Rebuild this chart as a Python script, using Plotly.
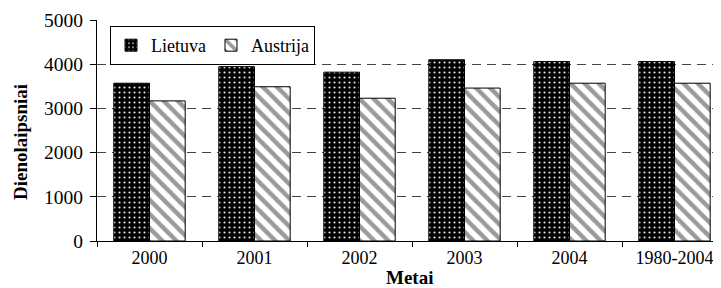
import plotly.graph_objects as go

categories = ["2000", "2001", "2002", "2003", "2004", "1980-2004"]
lietuva = [3570, 3945, 3820, 4100, 4060, 4060]
austrija = [3170, 3490, 3230, 3460, 3570, 3570]
series_names = ["Lietuva", "Austrija"]
y_title = "Dienolaipsniai"
x_title = "Metai"

# page body has an 8px margin; compensate so the plot area lands where the reference has it
OFF = 8
W, H = 721 - OFF, 288 - OFF
ML, MR, MT, MB = 97 - OFF, 0, 20 - OFF, H - (241 - OFF)
plot_w = W - ML - MR
plot_h = H - MT - MB
cat_px = 105.0

font_fam = "Liberation Serif"
FS = 18


def px_x(xp):
    return (xp - OFF - ML) / plot_w


def px_y(yp):
    return ((H - MB) - (yp - OFF)) / plot_h


fig = go.Figure()
fig.add_trace(go.Bar(
    x=categories, y=lietuva, name=series_names[0],
    marker=dict(color="black", line=dict(color="black", width=1),
                pattern=dict(shape=".", fillmode="replace", bgcolor="black",
                             fgcolor="#e8e8e8", size=5, solidity=0.14)),
))
fig.add_trace(go.Bar(
    x=categories, y=austrija, name=series_names[1],
    marker=dict(color="white", line=dict(color="black", width=1),
                pattern=dict(shape="\\", fillmode="replace", bgcolor="white",
                             fgcolor="#9a9a9a", size=10, solidity=0.45)),
))

fig.update_layout(
    width=W, height=H,
    margin=dict(l=ML, r=MR, t=MT, b=MB, autoexpand=False),
    paper_bgcolor="white", plot_bgcolor="white",
    barmode="group", bargap=0.32, bargroupgap=0,
    font=dict(family=font_fam, size=FS, color="black"),
    showlegend=True,
    legend=dict(orientation="h", x=px_x(110), y=px_y(26), xanchor="left", yanchor="top",
                bordercolor="black", borderwidth=1, bgcolor="white",
                font=dict(family=font_fam, size=FS), itemwidth=30,
                traceorder="normal", tracegroupgap=0),
    xaxis=dict(type="category", range=[-0.5, -0.5 + plot_w / cat_px],
               showline=True, linecolor="black", linewidth=1,
               ticks="outside", ticklen=5, tickcolor="black", tickson="boundaries",
               showgrid=False, fixedrange=True,
               tickfont=dict(family=font_fam, size=FS)),
    yaxis=dict(range=[0, 5000], dtick=1000, showline=True, linecolor="black", linewidth=1,
               ticks="outside", ticklen=6, tickcolor="black", ticklabelstandoff=3,
               showgrid=True, gridcolor="#444444", gridwidth=1, griddash="9px,6px",
               zeroline=False, tickfont=dict(family=font_fam, size=19.5)),
    annotations=[
        dict(text="<b>" + x_title + "</b>", xref="paper", yref="paper",
             x=px_x(409), y=px_y(277),
             xanchor="center", yanchor="middle", showarrow=False,
             font=dict(family=font_fam, size=19)),
        dict(text="<b>" + y_title + "</b>", xref="paper", yref="paper",
             x=px_x(20), y=px_y(142),
             xanchor="center", yanchor="middle", textangle=-90, showarrow=False,
             font=dict(family=font_fam, size=19)),
    ],
)

fig.write_html("out.html")
